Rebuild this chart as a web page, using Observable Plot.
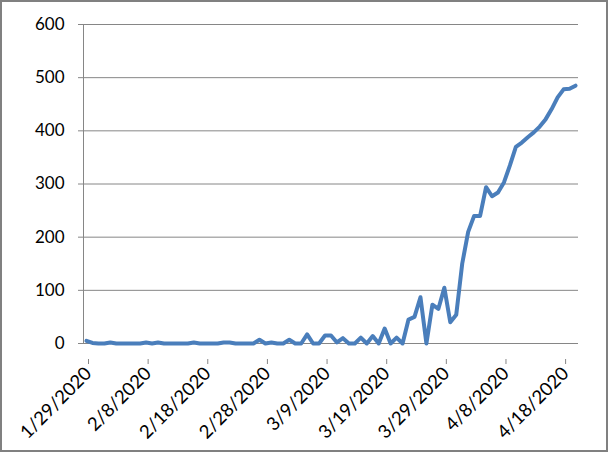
<!DOCTYPE html>
<html>
<head>
<meta charset="utf-8">
<script src="https://cdn.jsdelivr.net/npm/d3@7"></script>
<script src="https://cdn.jsdelivr.net/npm/@observablehq/plot@0.6"></script>
<style>
  html, body { margin: 0; padding: 0; background: #fff; }
  #wrap { position: relative; width: 609px; height: 453px; }
  #border { position: absolute; left: 0; top: 0; width: 608px; height: 452px; box-sizing: border-box; border: 2px solid #808080; pointer-events: none; z-index: 2; }
</style>
</head>
<body>
<div id="wrap"><div id="border"></div></div>
<script>
// Data
const startDate = "2020-01-29";
const values = [
  5, 1, 0, 0, 2, 0, 0, 0, 0, 0,
  2, 0, 2, 0, 0, 0, 0, 0, 2, 0,
  0, 0, 0, 2, 2, 0, 0, 0, 0, 7,
  0, 2, 0, 0, 7, 0, 0, 17, 0, 0,
  15, 15, 2, 10, 0, 0, 11, 0, 14, 0,
  28, 0, 11, 0, 45, 50, 87, 0, 73, 65,
  105, 40, 54, 150, 210, 240, 240, 294, 277, 284,
  303, 335, 370, 378, 388, 397, 408, 422, 441, 463,
  478, 479, 485
];
const xTickLabels = ["1/29/2020", "2/8/2020", "2/18/2020", "2/28/2020", "3/9/2020", "3/19/2020", "3/29/2020", "4/8/2020", "4/18/2020"];
const yTicks = [0, 100, 200, 300, 400, 500, 600];

const DAY = 86400000;
const start = new Date(startDate + "T00:00:00Z");
const data = values.map((v, i) => ({date: new Date(+start + i * DAY + DAY / 2), value: v}));
const xDomain = [start, new Date(+start + values.length * DAY)];
const parseLabel = d3.utcParse("%m/%d/%Y");
const xTicks = xTickLabels.map(s => parseLabel(s));
const fmt = d3.utcFormat("%-m/%-d/%Y");

const chart = Plot.plot({
  width: 609,
  height: 453,
  marginLeft: 83,
  marginRight: 31,
  marginTop: 24,
  marginBottom: 110,
  style: {fontFamily: "Lato", fontSize: "17px", color: "#000", background: "transparent"},
  x: {type: "utc", domain: xDomain, label: null},
  y: {domain: [0, 600], label: null},
  marks: [
    Plot.gridY(yTicks, {stroke: "#868686", strokeOpacity: 1}),
    Plot.ruleX([xDomain[0]], {stroke: "#868686"}),
    Plot.ruleY([0], {stroke: "#868686"}),
    Plot.axisY(yTicks, {label: null, tickSize: 5, tickPadding: 14, stroke: "#868686", fill: "#000", fontSize: 17}),
    Plot.axisX(xTicks, {label: null, tickFormat: fmt, tickRotate: -45, tickSize: 5, tickPadding: 6, dx: 5, dy: 16, stroke: "#868686", fill: "#000", fontSize: 18.5}),
    Plot.line(data, {x: "date", y: "value", stroke: "#4a7ebb", strokeWidth: 4, strokeLinejoin: "round", strokeLinecap: "round"})
  ]
});
document.getElementById("wrap").appendChild(chart);
chart.style.position = "absolute";
chart.style.left = "0";
chart.style.top = "0";
</script>
</body>
</html>
